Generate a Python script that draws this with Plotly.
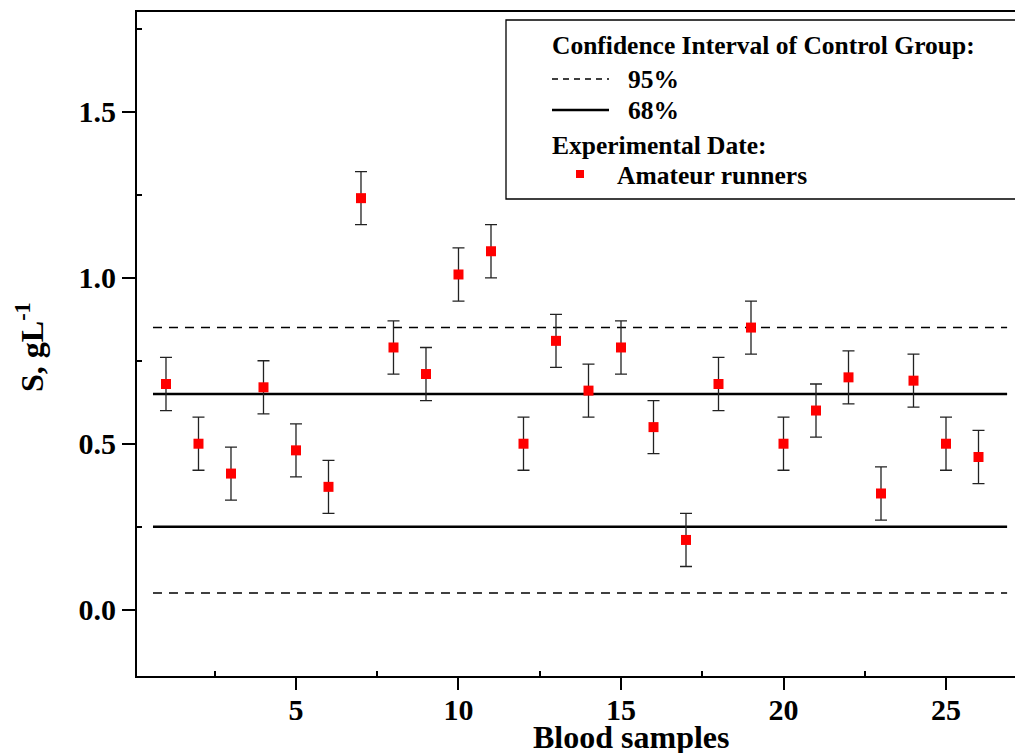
import plotly.graph_objects as go

# ---------------- data ----------------
samples = list(range(1, 27))
s_values = [0.68, 0.50, 0.41, 0.67, 0.48, 0.37, 1.24, 0.79, 0.71, 1.01,
            1.08, 0.50, 0.81, 0.66, 0.79, 0.55, 0.21, 0.68, 0.85, 0.50,
            0.60, 0.70, 0.35, 0.69, 0.50, 0.46]
s_errors = [0.08] * 26
ci95_bounds = [0.05, 0.85]
ci68_bounds = [0.25, 0.65]
ci_x_span = [0.6, 26.88]
x_tick_vals = [5, 10, 15, 20, 25]
x_minor_vals = [2.5, 7.5, 12.5, 17.5, 22.5]
y_tick_vals = [0.0, 0.5, 1.0, 1.5]
y_tick_text = ["0.0", "0.5", "1.0", "1.5"]
y_minor_vals = [0.25, 0.75, 1.25, 1.75]
legend_header_1 = "Confidence Interval of Control Group:"
legend_header_2 = "Experimental Date:"
legend_labels = ["95%", "68%", "Amateur runners"]
x_title = "Blood samples"
y_title = "S, gL<sup>-1</sup>"

# ---------------- layout constants ----------------
W, H = 1015, 753
ML, MR, MT, MB = 137, 0, 12, 77
PW, PH = W - ML - MR, H - MT - MB
FONT = "Liberation Serif"


def px(x):
    return (x - ML) / PW


def py(y):
    return (H - MB - y) / PH


def hline_xy(bounds):
    xs, ys = [], []
    for b in bounds:
        xs += [ci_x_span[0], ci_x_span[1], None]
        ys += [b, b, None]
    return xs, ys


fig = go.Figure()

x95, y95 = hline_xy(ci95_bounds)
fig.add_trace(go.Scatter(x=x95, y=y95, mode="lines",
                         line=dict(color="black", width=1.6, dash="9px,7px"),
                         name=legend_labels[0], showlegend=False, hoverinfo="skip"))
x68, y68 = hline_xy(ci68_bounds)
fig.add_trace(go.Scatter(x=x68, y=y68, mode="lines",
                         line=dict(color="black", width=2.5),
                         name=legend_labels[1], showlegend=False, hoverinfo="skip"))
fig.add_trace(go.Scatter(x=samples, y=s_values, mode="markers",
                         marker=dict(symbol="square", size=10, color="#ff0000"),
                         error_y=dict(type="data", array=s_errors, visible=True,
                                      color="#222222", thickness=1.3, width=6),
                         name=legend_labels[2], showlegend=False))

axis_common = dict(showgrid=False, zeroline=False, showline=True, linecolor="black",
                   linewidth=2, ticks="outside", tickcolor="black", tickwidth=2,
                   tickfont=dict(family=FONT, size=30, color="black", weight="bold"))

fig.update_xaxes(range=[0.108, 27.123], tickmode="array", tickvals=x_tick_vals,
                 ticklen=12, mirror=True, ticklabelstandoff=-6,
                 minor=dict(tickmode="array", tickvals=x_minor_vals, ticks="inside",
                            ticklen=5, tickwidth=1.5, tickcolor="black"),
                 **axis_common)
fig.update_yaxes(range=[-0.2, 1.801], tickmode="array", tickvals=y_tick_vals,
                 ticktext=y_tick_text, ticklen=13, mirror=False,
                 minor=dict(tickmode="array", tickvals=y_minor_vals, ticks="inside",
                            ticklen=5, tickwidth=1.5, tickcolor="black"),
                 **axis_common)

shapes = [
    # legend frame
    dict(type="rect", xref="paper", yref="paper", x0=px(506), x1=px(1030),
         y0=py(199), y1=py(20), line=dict(color="black", width=1.3),
         fillcolor="white", layer="below"),
    dict(type="line", xref="paper", yref="paper", x0=px(552), x1=px(609),
         y0=py(79), y1=py(79), line=dict(color="black", width=1.6, dash="6px,5px")),
    dict(type="line", xref="paper", yref="paper", x0=px(552), x1=px(609),
         y0=py(110), y1=py(110), line=dict(color="black", width=2.5)),
    dict(type="rect", xref="paper", yref="paper", x0=px(576), x1=px(584),
         y0=py(178), y1=py(170), line=dict(width=0), fillcolor="#ff0000"),
]

leg_font = dict(family=FONT, size=25.5, color="black", weight="bold")
annotations = [
    dict(text=legend_header_1, x=px(550), y=py(46)),
    dict(text=legend_labels[0], x=px(626), y=py(79)),
    dict(text=legend_labels[1], x=px(626), y=py(111)),
    dict(text=legend_header_2, x=px(550), y=py(145)),
    dict(text=legend_labels[2], x=px(615), y=py(175)),
]
annotations = [dict(a, xref="paper", yref="paper", xanchor="left", yanchor="middle",
                    showarrow=False, font=leg_font) for a in annotations]

title_font = dict(family=FONT, size=32, color="black", weight="bold")
annotations.append(dict(text=x_title, x=px(631), y=py(737), xref="paper", yref="paper",
                        xanchor="center", yanchor="middle", showarrow=False,
                        font=title_font))
annotations.append(dict(text=y_title, x=px(30), y=py(347), xref="paper", yref="paper",
                        xanchor="center", yanchor="middle", showarrow=False,
                        textangle=-90, font=title_font))

fig.update_layout(width=W, height=H, margin=dict(l=ML, r=MR, t=MT, b=MB),
                  paper_bgcolor="white", plot_bgcolor="white",
                  shapes=shapes, annotations=annotations, showlegend=False)

fig.write_html("out.html")
